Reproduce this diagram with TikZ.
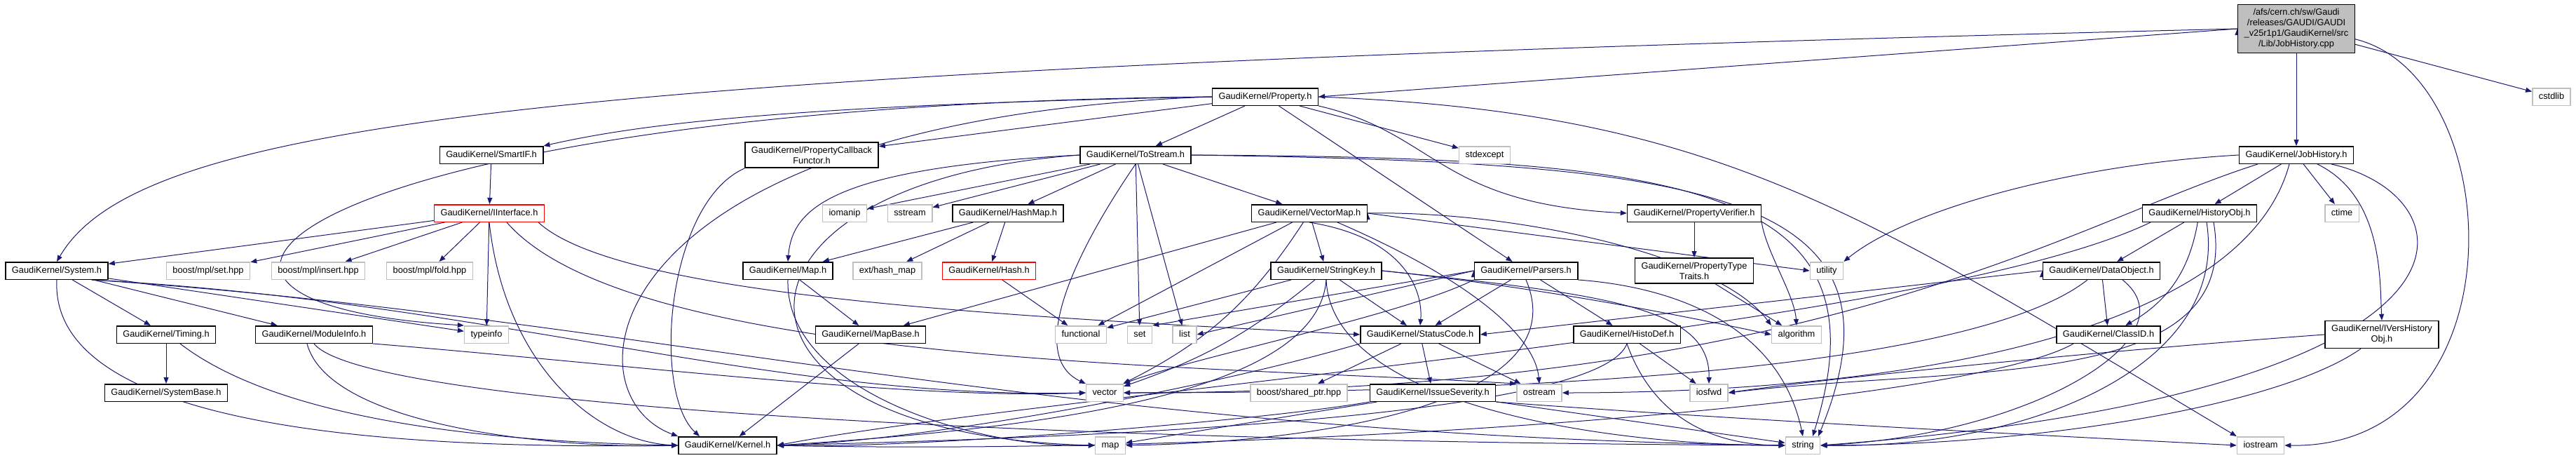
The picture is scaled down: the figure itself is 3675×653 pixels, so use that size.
\documentclass[tikz,border=0pt]{standalone}
\usepackage{fontspec}
\newfontfamily\dotfont{Liberation Sans}
\usetikzlibrary{arrows.meta,positioning}
\pgfdeclarelayer{edges}
\pgfsetlayers{edges,main}
\definecolor{edgeblue}{RGB}{25,25,112}
\definecolor{extgrey}{RGB}{191,191,191}
\definecolor{rootgrey}{RGB}{191,191,191}
\begin{document}
\begin{tikzpicture}[x=1pt,y=1pt,
box/.style={draw=black,fill=white,line width=1.5pt,inner xsep=9pt,inner ysep=6pt,text height=9.5pt,text depth=3pt,font=\dotfont\fontsize{12.8}{15}\selectfont},
ext/.style={box,draw=extgrey},
bad/.style={box,draw=red},
multi/.style={box,align=center,text height=,text depth=},
root/.style={multi,fill=rootgrey},
dep/.style={-{Triangle[length=9pt,width=7pt]},line width=1pt,color=edgeblue}]
\useasboundingbox (0,0) rectangle (3675,-653);
\node[root] (cpp) at (3276,-41) {/afs/cern.ch/sw/Gaudi\\/releases/GAUDI/GAUDI\\\_v25r1p1/GaudiKernel/src\\/Lib/JobHistory.cpp};
\node[box] (jobh) at (3276,-221) {GaudiKernel/JobHistory.h};
\node[ext] (cstdlib) at (3640,-138) {cstdlib};
\node[box] (prop) at (1805,-138) {GaudiKernel/Property.h};
\node[box] (smartif) at (701,-221) {GaudiKernel/SmartIF.h};
\node[multi] (cbfunc) at (1158,-221) {GaudiKernel/PropertyCallback\\Functor.h};
\node[box] (tostream) at (1620,-221) {GaudiKernel/ToStream.h};
\node[ext] (stdexcept) at (2118,-221) {stdexcept};
\node[bad] (iinterface) at (698,-304) {GaudiKernel/IInterface.h};
\node[ext] (iomanip) at (1205,-304) {iomanip};
\node[ext] (sstream) at (1298,-304) {sstream};
\node[box] (hashmap) at (1438,-304) {GaudiKernel/HashMap.h};
\node[box] (vectormap) at (1868,-304) {GaudiKernel/VectorMap.h};
\node[box] (propverif) at (2417,-304) {GaudiKernel/PropertyVerifier.h};
\node[box] (histobj) at (3138,-304) {GaudiKernel/HistoryObj.h};
\node[ext] (ctime) at (3341,-304) {ctime};
\node[box] (system) at (81,-386) {GaudiKernel/System.h};
\node[ext] (mplset) at (297,-386) {boost/mpl/set.hpp};
\node[ext] (mplinsert) at (454,-386) {boost/mpl/insert.hpp};
\node[ext] (mplfold) at (613,-386) {boost/mpl/fold.hpp};
\node[box] (mapinc) at (1124,-386) {GaudiKernel/Map.h};
\node[ext] (hashext) at (1266,-386) {ext/hash\_map};
\node[bad] (hash) at (1411,-386) {GaudiKernel/Hash.h};
\node[box] (stringkey) at (1892,-386) {GaudiKernel/StringKey.h};
\node[box] (parsers) at (2177,-386) {GaudiKernel/Parsers.h};
\node[multi] (proptraits) at (2417,-386) {GaudiKernel/PropertyType\\Traits.h};
\node[ext] (utility) at (2606,-386) {utility};
\node[box] (dataobj) at (2998,-386) {GaudiKernel/DataObject.h};
\node[box] (timing) at (237,-477) {GaudiKernel/Timing.h};
\node[box] (modinfo) at (448,-477) {GaudiKernel/ModuleInfo.h};
\node[ext] (typeinfo) at (694,-477) {typeinfo};
\node[box] (mapbase) at (1242,-477) {GaudiKernel/MapBase.h};
\node[ext] (functional) at (1542,-477) {functional};
\node[ext] (stdset) at (1626,-477) {set};
\node[ext] (stdlist) at (1690,-477) {list};
\node[box] (statuscode) at (2026,-477) {GaudiKernel/StatusCode.h};
\node[box] (histodef) at (2321,-477) {GaudiKernel/HistoDef.h};
\node[ext] (algorithm) at (2563,-477) {algorithm};
\node[box] (classid) at (3008,-477) {GaudiKernel/ClassID.h};
\node[multi] (ivershist) at (3398,-477) {GaudiKernel/IVersHistory\\Obj.h};
\node[box] (sysbase) at (237,-560) {GaudiKernel/SystemBase.h};
\node[ext] (vector) at (1576,-560) {vector};
\node[ext] (sharedptr) at (1853,-560) {boost/shared\_ptr.hpp};
\node[box] (issuesev) at (2044,-560) {GaudiKernel/IssueSeverity.h};
\node[ext] (ostream) at (2196,-560) {ostream};
\node[ext] (iosfwd) at (2438,-560) {iosfwd};
\node[box] (kernel) at (1038,-635) {GaudiKernel/Kernel.h};
\node[ext] (stdmap) at (1584,-635) {map};
\node[ext] (stdstring) at (2572,-635) {string};
\node[ext] (iostream) at (3225,-635) {iostream};
\begin{pgfonlayer}{edges}
\begin{scope}[dep]
\draw (cpp) edge (jobh);
\draw (cpp) edge (cstdlib);
\draw (cpp.west) edge (prop.east);
\draw (cpp.west) .. controls (800,-100) and (200,-170) .. (system.north);
\draw (cpp.-10) .. controls (3580,-110) and (3600,-640) .. (iostream.east);
\draw (jobh) edge (histobj);
\draw (jobh) edge (ctime);
\draw ([xshift=30pt]jobh.south) .. controls (3400,-280) and (3395,-400) .. (ivershist.north);
\draw (jobh.west) .. controls (2950,-235) and (2720,-300) .. (utility.north east);
\draw ([xshift=-55pt]jobh.south) .. controls (2950,-320) and (2600,-560) .. (vector.east);
\draw ([xshift=-10pt]jobh.south) .. controls (3200,-480) and (2700,-560) .. (ostream.east);
\draw ([xshift=50pt]jobh.south) .. controls (3530,-280) and (3590,-560) .. (stdstring.east);
\draw (histobj) edge (dataobj);
\draw (histobj) edge[bend left=25] (classid);
\draw ([xshift=-70pt]histobj.south) .. controls (2750,-470) and (1500,-560) .. (kernel.east);
\draw ([xshift=10pt]histobj.south) .. controls (3180,-520) and (2900,-640) .. (stdstring.east);
\draw ([xshift=20pt]histobj.south) .. controls (3200,-560) and (2800,-520) .. (iosfwd.east);
\draw (dataobj) edge (classid);
\draw (dataobj.west) edge (statuscode.east);
\draw ([xshift=30pt]dataobj.south) .. controls (3130,-480) and (2900,-620) .. (stdstring.east);
\draw ([xshift=-20pt]dataobj.south) .. controls (2850,-500) and (2400,-560) .. (vector.east);
\draw ([xshift=-50pt]classid.south) .. controls (2800,-580) and (1800,-650) .. (kernel.east);
\draw ([xshift=-30pt]ivershist.south) .. controls (3250,-580) and (2900,-635) .. (stdstring.east);
\draw (ivershist.west) .. controls (3000,-500) and (2600,-540) .. (iosfwd.east);
\draw (prop.west) .. controls (1100,-150) and (900,-180) .. (smartif.north east);
\draw (prop) edge (cbfunc);
\draw (prop) edge (tostream);
\draw (prop) edge (parsers);
\draw (prop) edge (stdexcept);
\draw (prop.south east) .. controls (2050,-190) and (2050,-290) .. (propverif.west);
\draw (prop.east) .. controls (2450,-160) and (2650,-300) .. (iostream.north west);
\draw (prop.west) .. controls (850,-170) and (800,-560) .. (kernel.north west);
\draw (prop.west) .. controls (450,-150) and (100,-430) .. (typeinfo.north west);
\draw (cbfunc.south west) .. controls (950,-290) and (930,-560) .. ([xshift=-40pt]kernel.north);
\draw (smartif) edge (iinterface);
\draw (iinterface) edge (system);
\draw (iinterface) edge (mplset);
\draw (iinterface) edge (mplinsert);
\draw (iinterface) edge (mplfold);
\draw (iinterface) edge (typeinfo);
\draw (iinterface.south) .. controls (720,-520) and (850,-630) .. (kernel.west);
\draw ([xshift=70pt]iinterface.south) .. controls (880,-420) and (1400,-450) .. (statuscode.west);
\draw ([xshift=25pt]iinterface.south) .. controls (900,-520) and (1700,-520) .. (ostream.north west);
\draw (system) edge (timing);
\draw (system) edge (modinfo);
\draw (system.south) .. controls (70,-620) and (600,-640) .. (kernel.west);
\draw (system) edge (typeinfo);
\draw ([xshift=50pt]system.south) .. controls (700,-430) and (1100,-570) .. (vector.west);
\draw ([xshift=50pt]system.south) .. controls (900,-450) and (1500,-620) .. (stdstring.west);
\draw (timing) edge (sysbase);
\draw ([xshift=20pt]timing.south) .. controls (400,-600) and (700,-630) .. (kernel.west);
\draw ([xshift=-10pt]modinfo.south) .. controls (470,-610) and (800,-640) .. (kernel.west);
\draw (modinfo.south) .. controls (520,-580) and (1500,-630) .. (stdstring.west);
\draw (modinfo.south east) .. controls (900,-520) and (1300,-570) .. (vector.west);
\draw (tostream) edge (iomanip);
\draw (tostream) edge (sstream);
\draw (tostream) edge (hashmap);
\draw (tostream.west) .. controls (1180,-240) and (1130,-300) .. (mapinc.north);
\draw (tostream) edge (vectormap);
\draw (tostream.south) .. controls (1520,-380) and (1470,-510) .. (vector.north west);
\draw (tostream) edge (stdset);
\draw (tostream) edge (stdlist);
\draw (tostream.west) .. controls (1000,-260) and (990,-620) .. (stdmap.west);
\draw (tostream.east) .. controls (2400,-225) and (2700,-260) .. ([xshift=14pt]stdstring.north);
\draw (tostream.east) .. controls (2420,-232) and (2740,-268) .. ([xshift=22pt]stdstring.north);
\draw (hashmap) edge (mapinc);
\draw (hashmap) edge (hashext);
\draw (hashmap) edge (hash);
\draw (hash) edge (functional);
\draw (mapinc) edge (mapbase);
\draw (mapinc.south) .. controls (1120,-560) and (1400,-640) .. (stdmap.west);
\draw (mapbase) edge (kernel);
\draw (vectormap) edge (mapbase);
\draw (vectormap) edge (functional);
\draw (vectormap) edge[bend left=15] (vector);
\draw (vectormap) edge (stringkey);
\draw (vectormap.south) .. controls (2010,-340) and (2030,-420) .. (statuscode.north);
\draw ([xshift=40pt]vectormap.south) .. controls (2100,-400) and (2190,-480) .. (ostream.north);
\draw (vectormap.east) .. controls (2150,-300) and (2450,-360) .. (algorithm.north west);
\draw (vectormap.east) edge (utility.west);
\draw (stringkey) edge (statuscode);
\draw (stringkey) edge (functional);
\draw (stringkey) edge[bend left=10] (vector);
\draw (stringkey.south) .. controls (1880,-560) and (1500,-610) .. (kernel.east);
\draw (stringkey.south) .. controls (1900,-580) and (2300,-635) .. (stdstring.west);
\draw (stringkey.east) .. controls (2200,-410) and (2400,-450) .. (algorithm.west);
\draw (stringkey.east) .. controls (2300,-420) and (2440,-440) .. (iosfwd.north);
\draw (parsers) edge (statuscode);
\draw (parsers) edge (histodef);
\draw (parsers.south west) .. controls (2000,-450) and (1700,-510) .. (vector.north east);
\draw (parsers.west) edge (stdlist.east);
\draw (parsers.west) edge (stdset.north east);
\draw (parsers.south) .. controls (2250,-570) and (1900,-630) .. (stdmap.east);
\draw (parsers.south east) .. controls (2400,-410) and (2540,-470) .. (stdstring.north);
\draw (histodef) edge (iosfwd);
\draw (histodef.south) .. controls (2360,-600) and (2450,-635) .. (stdstring.west);
\draw (histodef.south) .. controls (2280,-600) and (1500,-625) .. (kernel.east);
\draw (statuscode) edge (sharedptr);
\draw (statuscode) edge (issuesev);
\draw (statuscode) edge (ostream);
\draw (statuscode.south west) .. controls (1700,-560) and (1300,-630) .. (kernel.east);
\draw (issuesev.south west) .. controls (1800,-600) and (1300,-640) .. (kernel.east);
\draw (issuesev) edge (stdmap);
\draw (issuesev) edge (stdstring);
\draw (issuesev.south east) .. controls (2500,-600) and (2900,-620) .. (iostream.west);
\draw (propverif) edge (proptraits);
\draw (propverif.south east) .. controls (2520,-360) and (2560,-420) .. (algorithm.north);
\draw (proptraits) edge (algorithm);
\end{scope}
\end{pgfonlayer}
\end{tikzpicture}
\end{document}
